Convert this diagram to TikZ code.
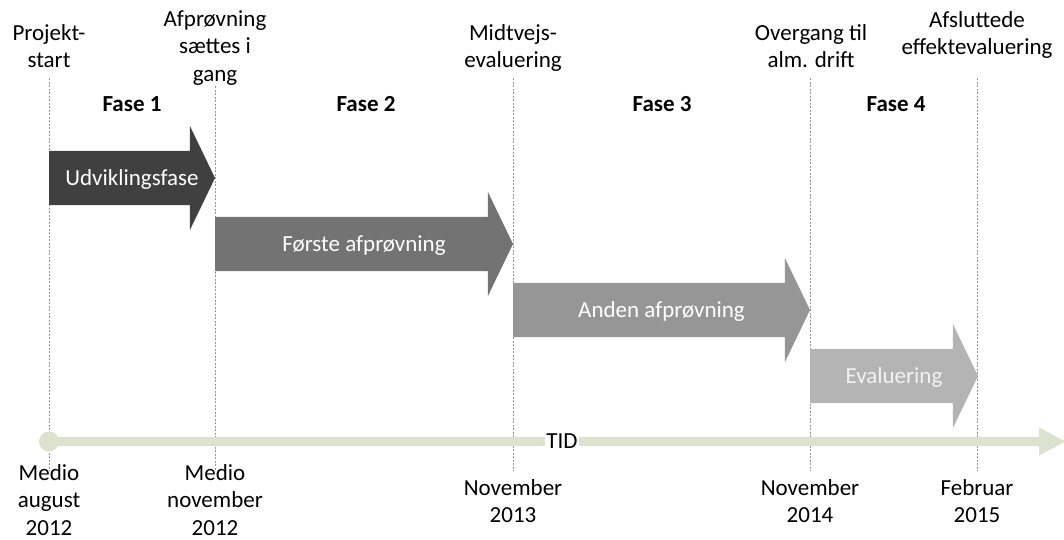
\documentclass[tikz,border=0pt]{standalone}
\usepackage{fontspec}
\setmainfont{Carlito}
\usepackage{tikz}
\usetikzlibrary{shapes,arrows,arrows.meta,positioning,calc}
\definecolor{phaseA}{RGB}{64, 64, 64}
\definecolor{phaseB}{RGB}{115, 115, 115}
\definecolor{phaseC}{RGB}{150, 150, 150}
\definecolor{phaseD}{RGB}{180, 180, 180}
\definecolor{tidgreen}{RGB}{221, 226, 206}
\definecolor{dotgray}{RGB}{150, 150, 150}
\tikzstyle{lbl} = [align=center, inner sep=0pt, text=black, font=\fontsize{23}{27.5}\selectfont]
\tikzstyle{fase} = [inner sep=0pt, text=black, font=\bfseries\fontsize{23}{27.5}\selectfont]
\tikzstyle{phase} = [single arrow, anchor=tail, outer sep=0pt, single arrow head extend=25pt, single arrow tip angle=128.5, minimum width=104pt, inner xsep=0pt, inner ysep=17.9pt, text height=16.5pt, text depth=1.7pt]
\tikzstyle{phasetxt} = [inner sep=0pt, text height=16.5pt, text depth=1.7pt, text=white, font=\fontsize{23}{27.5}\selectfont]
\tikzstyle{mile} = [draw=dotgray, line width=1pt, dash pattern=on 2pt off 1.5pt]
\tikzstyle{tedge} = [draw=tidgreen, line width=8.5pt, -{Triangle[length=27pt, width=26pt]}]

\begin{document}
\begin{tikzpicture}[x=1pt, y=-1pt]
\useasboundingbox (0,0) rectangle (1064,539);

% milestones =============================

\coordinate (top1) at (49,78);
\coordinate (bot1) at (49,471);
\coordinate (top2) at (215,86);
\coordinate (bot2) at (215,471);
\coordinate (top3) at (513,78);
\coordinate (bot3) at (513,471);
\coordinate (top4) at (810,78);
\coordinate (bot4) at (810,471);
\coordinate (top5) at (977,78);
\coordinate (bot5) at (977,471);

\path[mile] (top1) -- (bot1);
\path[mile] (top2) -- (bot2);
\path[mile] (top3) -- (bot3);
\path[mile] (top4) -- (bot4);
\path[mile] (top5) -- (bot5);

% labels over the lines
\node[lbl] (start) at (49,46) {Projekt-\\start};
\node[lbl] (afpr) at (215,48) {Afprøvning\\sættes i\\gang};
\node[lbl] (midt) at (513,48) {Midtvejs-\\evaluering};
\node[lbl] (drift) at (811,46) {Overgang til\\alm. drift};
\node[lbl] (afsl) at (977,35) {Afsluttede\\effektevaluering};

% phases
\node[fase] (fase1) at (132,104) {Fase 1};
\node[fase] (fase2) at (366,104) {Fase 2};
\node[fase] (fase3) at (662,104) {Fase 3};
\node[fase] (fase4) at (896,104) {Fase 4};

% arrows =================================

\node[phase, fill=phaseA, minimum height=166pt] (udv) at (49,178) {};
\node[phase, fill=phaseB, minimum height=298pt] (forste) at (215,244) {};
\node[phase, fill=phaseC, minimum height=297pt] (anden) at (513,310) {};
\node[phase, fill=phaseD, minimum height=168pt] (eval) at (810,376) {};

\node[phasetxt] (udvtxt) at ($(udv.tail)!0.5!(udv.tip)$) {Udviklingsfase};
\node[phasetxt] (forstetxt) at ($(forste.tail)!0.5!(forste.tip)$) {Første afprøvning};
\node[phasetxt] (andentxt) at ($(anden.tail)!0.5!(anden.tip)$) {Anden afprøvning};
\node[phasetxt, text=white!95!black] (evaltxt) at ($(eval.tail)!0.5!(eval.tip)$) {Evaluering};

% time line ==============================

\node[circle, fill=tidgreen, minimum size=20pt, inner sep=0pt] (tl0) at (49,441.5) {};
\coordinate (tlend) at (1066,441.5);
\path[tedge] (tl0.center) -- (tlend);
\node[lbl, fill=white, inner xsep=1.5pt, inner ysep=1pt] (tid) at (562,441.5) {TID};

% dates
\node[lbl] (d1) at (49,500) {Medio\\august\\2012};
\node[lbl] (d2) at (215,500) {Medio\\november\\2012};
\node[lbl] (d3) at (513,501) {November\\2013};
\node[lbl] (d4) at (810,501) {November\\2014};
\node[lbl] (d5) at (977,501) {Februar\\2015};

\end{tikzpicture}
\end{document}
